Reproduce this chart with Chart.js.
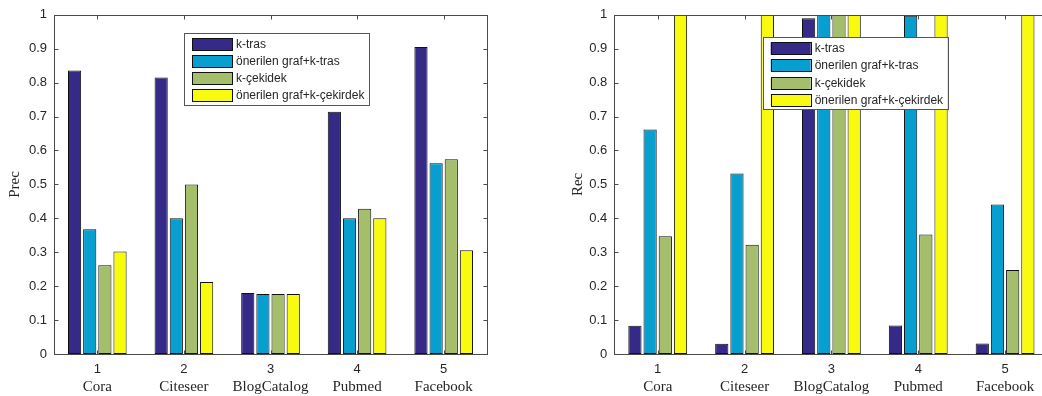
<!DOCTYPE html>
<html>
<head>
<meta charset="utf-8">
<script src="https://cdn.jsdelivr.net/npm/chart.js@4/dist/chart.umd.min.js"></script>
<style>
  html, body { margin: 0; padding: 0; background: #fff; }
  body { width: 1042px; height: 396px; position: relative; overflow: hidden; }
  canvas { position: absolute; top: 0; }
  #precChart { left: 0; }
  #recChart { left: 520px; }
</style>
</head>
<body>
<canvas id="precChart" width="520" height="396"></canvas>
<canvas id="recChart" width="540" height="396"></canvas>
<script>
const categories = ["1", "2", "3", "4", "5"];
const datasetNames = ["Cora", "Citeseer", "BlogCatalog", "Pubmed", "Facebook"];
const seriesLabels = ["k-tras", "önerilen graf+k-tras", "k-çekidek", "önerilen graf+k-çekirdek"];
const seriesColors = ["#352a87", "#069fd0", "#a5be6b", "#f9fb0e"];
const yTicks = [0, 0.1, 0.2, 0.3, 0.4, 0.5, 0.6, 0.7, 0.8, 0.9, 1];

// Prec (left)
const precKTras = [0.836, 0.815, 0.180, 0.714, 0.905];
const precGrafKTras = [0.368, 0.400, 0.177, 0.400, 0.562];
const precKCekidek = [0.262, 0.500, 0.177, 0.428, 0.574];
const precGrafKCekirdek = [0.302, 0.212, 0.177, 0.400, 0.306];

// Rec (right)
const recKTras = [0.083, 0.030, 0.990, 0.084, 0.031];
const recGrafKTras = [0.662, 0.532, 1.000, 0.997, 0.441];
const recKCekidek = [0.347, 0.322, 1.000, 0.352, 0.248];
const recGrafKCekirdek = [1.000, 1.000, 1.000, 1.000, 1.000];

const axisColor = "#4a4a4a";
const textColor = "#262626";
const sansFamily = '"Liberation Sans", Arial, Helvetica, sans-serif';
const serifFamily = '"Liberation Serif", "Times New Roman", serif';

const matlabBox = {
  id: "matlabBox",
  afterDatasetsDraw(chart) {
    const { ctx, chartArea: a, scales } = chart;
    const line = (x1, y1, x2, y2) => {
      ctx.beginPath();
      ctx.moveTo(x1, y1);
      ctx.lineTo(x2, y2);
      ctx.stroke();
    };
    const L = Math.round(a.left) + 0.5;
    const R = Math.round(a.right) + 0.5;
    const T = Math.round(a.top) + 0.5;
    const B = Math.round(a.bottom) + 0.5;
    ctx.save();
    ctx.strokeStyle = axisColor;
    ctx.lineWidth = 1;
    ctx.strokeRect(L, T, R - L, B - T);
    scales.y.ticks.forEach((t) => {
      const py = Math.round(scales.y.getPixelForValue(t.value)) + 0.5;
      line(L, py, L + 4, py);
      line(R, py, R - 4, py);
    });
    scales.x.ticks.forEach((t, i) => {
      const px = Math.round(scales.x.getPixelForTick(i)) + 0.5;
      line(px, B, px, B - 4);
      line(px, T, px, T + 4);
    });
    ctx.restore();
  }
};

const boxLegend = {
  id: "boxLegend",
  afterDraw(chart, args, opts) {
    const { ctx } = chart;
    const left = opts.left, top = opts.top, width = opts.width;
    const pitch = 17.3;
    const height = 72;
    ctx.save();
    ctx.fillStyle = "#fff";
    ctx.fillRect(left, top, width, height);
    ctx.strokeStyle = "#555";
    ctx.lineWidth = 1;
    ctx.strokeRect(Math.round(left) + 0.5, Math.round(top) + 0.5, width, height);
    ctx.font = "12px " + sansFamily;
    ctx.textBaseline = "middle";
    chart.data.datasets.forEach((ds, i) => {
      const sy = Math.round(top + 5 + i * pitch) + 0.5;
      ctx.fillStyle = ds.backgroundColor;
      ctx.fillRect(left + 8, sy, 40, 12);
      ctx.strokeStyle = "#111";
      ctx.strokeRect(Math.round(left + 8) + 0.5, sy, 40, 12);
      ctx.fillStyle = textColor;
      ctx.fillText(ds.label, left + 52, sy + 6.5);
    });
    ctx.restore();
  }
};

function makeDatasets(seriesValues) {
  return seriesValues.map((values, i) => ({
    label: seriesLabels[i],
    data: values,
    backgroundColor: seriesColors[i],
    borderColor: "#111",
    borderWidth: 1,
    borderSkipped: false,
    barPercentage: 0.87,
    categoryPercentage: 0.7
  }));
}

function makeChart(canvasId, seriesValues, opts) {
  return new Chart(document.getElementById(canvasId), {
    type: "bar",
    data: {
      labels: categories,
      datasets: makeDatasets(seriesValues)
    },
    options: {
      responsive: false,
      animation: false,
      layout: { padding: { left: 0, top: 13, right: opts.padRight, bottom: 0 } },
      scales: {
        x: {
          position: "bottom",
          weight: 0,
          grid: { display: false, drawTicks: false },
          border: { display: false },
          ticks: {
            color: textColor,
            padding: 8,
            maxRotation: 0,
            font: { family: sansFamily, size: 13 }
          },
          afterFit: (scale) => { scale.height = 24; }
        },
        xName: {
          type: "category",
          labels: datasetNames,
          position: "bottom",
          weight: 1,
          grid: { display: false, drawTicks: false },
          border: { display: false },
          ticks: {
            color: textColor,
            padding: 0,
            maxRotation: 0,
            font: { family: serifFamily, size: 15 }
          },
          afterFit: (scale) => { scale.height = 18; }
        },
        y: {
          min: 0,
          max: 1,
          grid: { display: false, drawTicks: false },
          border: { display: false },
          afterBuildTicks: (scale) => {
            scale.ticks = yTicks.map((v) => ({ value: v }));
          },
          ticks: {
            color: textColor,
            padding: 7,
            font: { family: sansFamily, size: 13 },
            callback: (v) => String(Number(Number(v).toFixed(1)))
          },
          title: {
            display: true,
            text: opts.yTitle,
            color: textColor,
            padding: { top: opts.titlePad, bottom: 0 },
            font: { family: serifFamily, size: 15 }
          },
          afterFit: (scale) => { scale.width = opts.yWidth; }
        }
      },
      plugins: {
        legend: { display: false },
        tooltip: { enabled: false },
        boxLegend: opts.legend
      }
    },
    plugins: [matlabBox, boxLegend]
  });
}

makeChart("precChart", [precKTras, precGrafKTras, precKCekidek, precGrafKCekirdek], {
  yTitle: "Prec",
  yWidth: 54,
  padRight: 33,
  titlePad: 6,
  legend: { left: 184, top: 32.5, width: 185 }
});

makeChart("recChart", [recKTras, recGrafKTras, recKCekidek, recGrafKCekirdek], {
  yTitle: "Rec",
  yWidth: 94.3,
  padRight: 11.5,
  titlePad: 49,
  legend: { left: 242.7, top: 37, width: 185 }
});
</script>
</body>
</html>
